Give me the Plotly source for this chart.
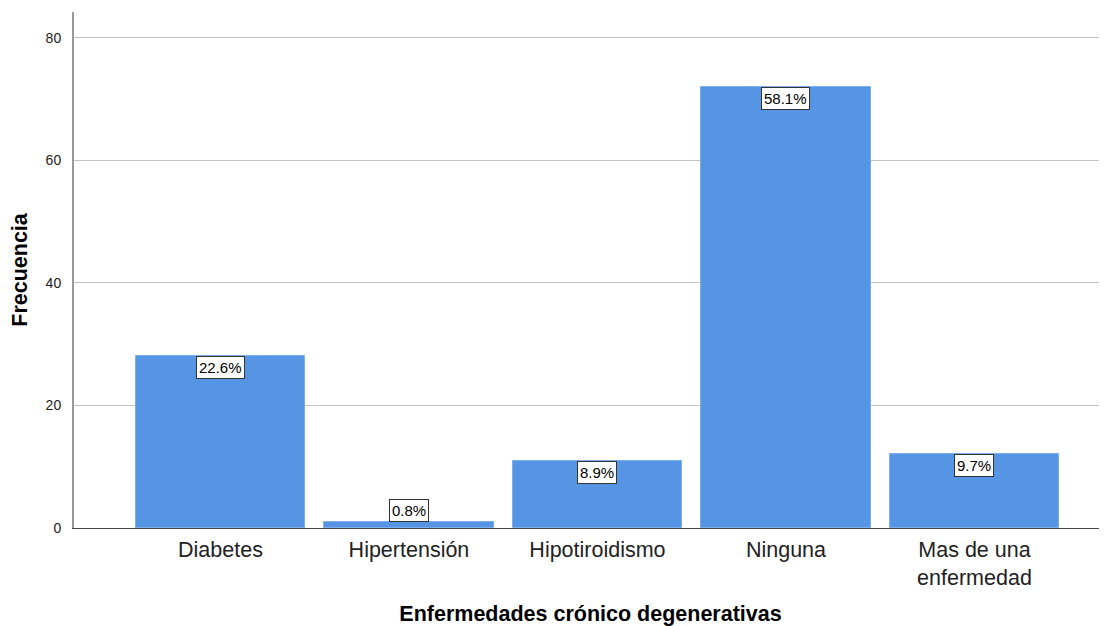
import plotly.graph_objects as go

categories = ["Diabetes", "Hipertensión", "Hipotiroidismo", "Ninguna", "Mas de una<br>enfermedad"]
frequencies = [28, 1, 11, 72, 12]
percent_labels = ["22.6%", "0.8%", "8.9%", "58.1%", "9.7%"]
y_ticks = [0, 20, 40, 60, 80]

FONT = "Liberation Sans, Arial"

fig = go.Figure()
fig.add_trace(go.Bar(
    x=categories, y=frequencies,
    marker=dict(color="#5595e3", line=dict(color="#7aaeee", width=1)),
    width=0.897,
    hoverinfo="skip",
))

for cat, val, lab in zip(categories, frequencies, percent_labels):
    small = val < 3
    fig.add_annotation(
        x=cat, y=val, text=lab, showarrow=False,
        yanchor="bottom" if small else "top",
        font=dict(family=FONT, size=15, color="#000"),
        bgcolor="white", bordercolor="#333", borderwidth=1, borderpad=2,
    )

# page body has an 8px margin, so the figure is sized/offset to compensate
fig.update_layout(
    width=1099, height=618,
    margin=dict(l=66, r=0, t=4, b=98),
    plot_bgcolor="white", paper_bgcolor="white",
    showlegend=False,
    font=dict(family=FONT, color="#222"),
    bargap=0,
)
fig.update_xaxes(
    type="category",
    range=[-0.777, 4.703],
    automargin=False,
    showline=True, linecolor="#444", linewidth=1,
    ticks="", ticklabelstandoff=2,
    tickfont=dict(size=21.5, color="#222"),
    title=dict(text="<b>Enfermedades crónico degenerativas</b>", font=dict(size=21.5, color="#000"), standoff=34),
    showgrid=False,
)
fig.update_yaxes(
    range=[0, 84.2],
    tickvals=y_ticks,
    automargin=False,
    showline=True, linecolor="#999", linewidth=2,
    showgrid=True, gridcolor="#c4c4c4", gridwidth=1,
    ticks="", ticklabelstandoff=8,
    tickfont=dict(size=14, color="#222"),
    title=dict(text="<b>Frecuencia</b>", font=dict(size=21.5, color="#000"), standoff=14),
    zeroline=False,
)

fig.write_html("out.html")
